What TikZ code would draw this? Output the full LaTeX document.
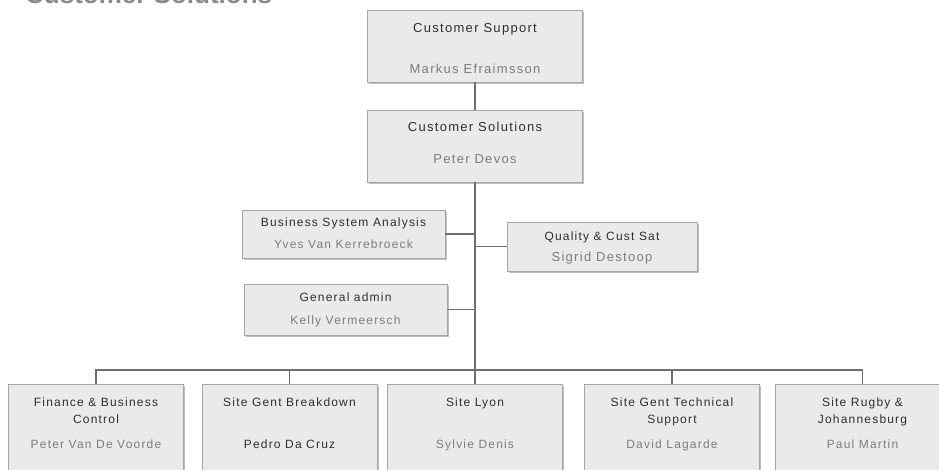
\documentclass[tikz,border=0pt]{standalone}
\usepackage{fontspec}
\setmainfont{Liberation Sans}
\newfontfamily\orgfont[LetterSpace=10]{Liberation Sans}
\usetikzlibrary{positioning,shadows}

\definecolor{boxfill}{HTML}{EAEAEA}
\definecolor{boxline}{HTML}{A6A6A6}
\definecolor{rolecol}{HTML}{2E2E2E}
\definecolor{namecol}{HTML}{7C7C7C}
\definecolor{linkcol}{HTML}{6E6E6E}
\definecolor{headcol}{HTML}{8A8A8A}

\begin{document}
\begin{tikzpicture}[x=1pt,y=-1pt]

\useasboundingbox (0,0) rectangle (939,470);

% definitions
\tikzstyle{unit} = [rectangle, draw=boxline, fill=boxfill, line width=0.9pt, inner sep=0pt, drop shadow={shadow xshift=1.6pt, shadow yshift=-1.6pt, fill=black, opacity=0.25}]

\tikzstyle{topunit} = [unit, minimum width=215pt, minimum height=72pt]

\tikzstyle{sideunit} = [unit, minimum width=203pt, minimum height=49pt]

\tikzstyle{siteunit} = [unit, minimum width=175pt, minimum height=100pt]

\tikzstyle{role} = [anchor=north, inner sep=0pt, align=center, text=rolecol, font=\orgfont\fontsize{12}{17}\selectfont]

\tikzstyle{person} = [anchor=center, inner sep=0pt, text height=8.6pt, text depth=0pt, text=namecol, font=\orgfont\fontsize{12}{17}\selectfont]

\tikzstyle{big} = [font=\orgfont\fontsize{13}{17}\selectfont]

\tikzstyle{link} = [draw=linkcol, line width=1.2pt]

% page heading, cut off at the top
\node (heading) [anchor=base west, inner sep=0pt, text=headcol, font=\bfseries\fontsize{26}{30}\selectfont] at (25,4) {Customer Solutions};

% the chart
\node (support) [topunit] at (475,46) {};
\node (supportrole) [role, big] at ([yshift=-13.5pt]support.north) {Customer Support};
\node (supportname) [person, big] at ([yshift=-60pt]support.north) {Markus Efraimsson};

\node (solutions) [topunit] at (475,146) {};
\node (solutionsrole) [role, big] at ([yshift=-12.5pt]solutions.north) {Customer Solutions};
\node (solutionsname) [person, big] at ([yshift=-50pt]solutions.north) {Peter Devos};

\node (analysis) [sideunit, minimum height=48pt] at (343.5,234) {};
\node (analysisrole) [role] at ([yshift=-8.5pt]analysis.north) {Business System Analysis};
\node (analysisname) [person] at ([yshift=-35pt]analysis.north) {Yves Van Kerrebroeck};

\node (quality) [sideunit, minimum width=190pt] at (602,246.5) {};
\node (qualityrole) [role] at ([yshift=-10.5pt]quality.north) {Quality \& Cust Sat};
\node (qualityname) [person, big] at ([yshift=-36pt]quality.north) {Sigrid Destoop};

\node (admin) [sideunit, minimum height=51pt] at (345.5,309.5) {};
\node (adminrole) [role] at ([yshift=-9.5pt]admin.north) {General admin};
\node (adminname) [person] at ([yshift=-37pt]admin.north) {Kelly Vermeersch};

\node (finance) [siteunit] at (96,434) {};
\node (financerole) [role] at ([yshift=-14.5pt]finance.north) {Finance \& Business\\Control};
\node (financename) [person] at ([yshift=-61pt]finance.north) {Peter Van De Voorde};

\node (breakdown) [siteunit] at (289.5,434) {};
\node (breakdownrole) [role] at ([yshift=-14.5pt]breakdown.north) {Site Gent Breakdown};
\node (breakdownname) [person, text=rolecol] at ([yshift=-61pt]breakdown.north) {Pedro Da Cruz};

\node (lyon) [siteunit] at (475,434) {};
\node (lyonrole) [role] at ([yshift=-14.5pt]lyon.north) {Site Lyon};
\node (lyonname) [person] at ([yshift=-61pt]lyon.north) {Sylvie Denis};

\node (technical) [siteunit] at (672,434) {};
\node (technicalrole) [role] at ([yshift=-14.5pt]technical.north) {Site Gent Technical\\Support};
\node (technicalname) [person] at ([yshift=-61pt]technical.north) {David Lagarde};

\node (rugby) [siteunit] at (862.5,434) {};
\node (rugbyrole) [role] at ([yshift=-14.5pt]rugby.north) {Site Rugby \&\\Johannesburg};
\node (rugbyname) [person] at ([yshift=-61pt]rugby.north) {Paul Martin};

\coordinate (bus) at (475,370);

\draw [link] (support) -- (solutions);
\draw [link] (solutions) -- (bus);
\draw [link] (analysis.east) -- (analysis.east -| bus);
\draw [link] (quality.west) -- (quality.west -| bus);
\draw [link] (admin.east) -- (admin.east -| bus);
\draw [link] (bus) -| (finance.north);
\draw [link] (bus) -| (breakdown.north);
\draw [link] (bus) -- (lyon.north);
\draw [link] (bus) -| (technical.north);
\draw [link] (bus) -| (rugby.north);

\end{tikzpicture}
\end{document}
